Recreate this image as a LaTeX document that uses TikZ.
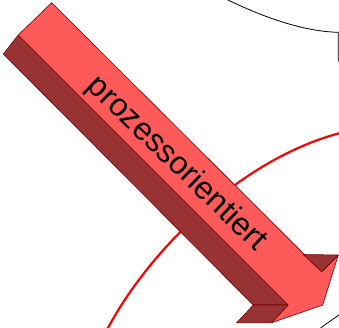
\documentclass[tikz,border=0pt]{standalone}
\usepackage{fontspec}
\setmainfont{Liberation Sans}
\definecolor{arrowlight}{RGB}{255,90,90}
\definecolor{arrowdark}{RGB}{153,51,51}
\definecolor{arrowedge}{RGB}{120,0,0}
\tikzset{
  facelight/.style={fill=arrowlight, draw=arrowedge, line width=0.6pt, line join=round},
  facedark/.style={fill=arrowdark, draw=arrowedge, line width=0.6pt, line join=round},
  redring/.style={draw=red, line width=2.2pt},
  thinblack/.style={draw=black, line width=0.8pt}
}
\begin{document}
\begin{tikzpicture}[x=1pt,y=-1pt]
\path[use as bounding box] (0,0) rectangle (339,327);
\clip (0,0) rectangle (339,327);
% background curves
\coordinate (r0) at (108.5,327);
\coordinate (r1) at (339,133.3);
\draw[redring] (r0) .. controls (150,250) and (240,160) .. (r1) -- ++(8,-1.8);
\draw[redring] (r0) -- ++(-2.6,4);
\coordinate (b0) at (218,-5);
\coordinate (b1) at (338.3,32.3);
\coordinate (b2) at (338.3,61.7);
\draw[thinblack] (b0) .. controls (255,14) and (300,31.5) .. (b1) -- (b2);
\coordinate (c0) at (320.5,328);
\coordinate (c1) at (341,313.5);
\draw[thinblack] (c0) -- (c1);
% arrow faces
\coordinate (t1) at (51.7,2.7);
\coordinate (t2) at (321.7,271.7);
\coordinate (t3) at (338.3,255);
\coordinate (t4) at (322.7,305);
\coordinate (t5) at (271.7,322.7);
\coordinate (t6) at (288.3,305);
\coordinate (t7) at (18.3,35);
\coordinate (d1) at (3.3,54);
\coordinate (d2) at (253.3,305);
\coordinate (d3) at (236.7,322.7);
\coordinate (n1) at (303.3,254.5);
\draw[facedark] (t7) -- (t6) -- (d2) -- (d1) -- cycle;
\draw[facedark] (d2) -- (t6) -- (t5) -- (d3) -- cycle;
\draw[facelight] (t1) -- (t2) -- (t3) -- (t4) -- (t5) -- (t6) -- (t7) -- cycle;
\draw[facedark] (n1) -- (t3) -- (t2) -- cycle;
\node[rotate=-44, font=\fontsize{32}{38}\selectfont, inner sep=0pt] (label) at (176.5,164) {prozessorientiert};
\end{tikzpicture}
\end{document}
